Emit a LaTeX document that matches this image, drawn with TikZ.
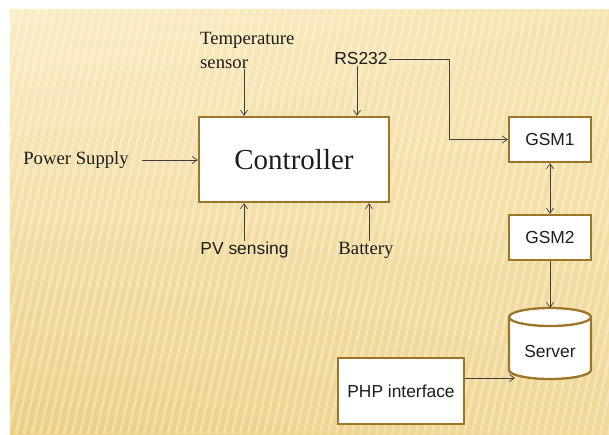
\documentclass[tikz,border=0pt]{standalone}
\usepackage{fontspec}
\setmainfont{Liberation Serif}
\setsansfont{Liberation Sans}
\usetikzlibrary{arrows.meta,calc,shadings}
\definecolor{bgTL}{HTML}{FAECC4}
\definecolor{bgTR}{HTML}{F6E4AE}
\definecolor{bgBL}{HTML}{EBCF85}
\definecolor{bgBR}{HTML}{F0D898}
\definecolor{boxline}{HTML}{9C7628}
\definecolor{ink}{HTML}{1E1E1E}
\tikzset{
  blk/.style={draw=boxline, line width=2.3pt, fill=white, inner sep=0pt},
  arr/.style={draw=ink!85, line width=0.7pt, -{Straight Barb[length=5pt,width=7pt]}},
  darr/.style={draw=ink!85, line width=0.7pt, {Straight Barb[length=5pt,width=7pt]}-{Straight Barb[length=5pt,width=7pt]}},
  sertxt/.style={font=\fontsize{18.7}{24}\selectfont, text=ink, inner sep=1pt},
  santxt/.style={font=\sffamily\fontsize{17.4}{21}\selectfont, text=ink, inner sep=1pt},
}
\begin{document}
\begin{tikzpicture}[x=1pt,y=-1pt]
\useasboundingbox (0,0) rectangle (609,434);
\fill[white] (0,0) rectangle (609,434);
% background
\shade[upper left=bgTL, upper right=bgTR, lower left=bgBL, lower right=bgBR] (10,9) rectangle (609,434);
\begin{scope}
\clip (10,9) rectangle (609,434);
\foreach \i in {-12,...,80} {
  \draw[white, opacity=0.28, line width=3pt] (\i*8,434) -- (\i*8+95,9);
}
\end{scope}

% boxes
\node[blk, minimum width=190, minimum height=85] (ctrl) at (294,159.5)
  {\fontsize{29}{33}\selectfont\color{ink}Controller};
\node[blk, minimum width=82, minimum height=45] (gsm1) at (550,139.5) {};
\node[santxt] at (gsm1) {GSM1};
\node[blk, minimum width=82, minimum height=45] (gsm2) at (550,237.5) {};
\node[santxt] at (gsm2) {GSM2};
\node[blk, minimum width=126, minimum height=66] (php) at (401,391) {};
\node[santxt] at (php) {PHP interface};

% server cylinder
\filldraw[draw=boxline, line width=2.3pt, fill=white]
  (509,317) -- (509,370) arc[start angle=180, end angle=360, x radius=41, y radius=-9]
  -- (591,317) arc[start angle=0, end angle=180, x radius=41, y radius=-9] -- cycle;
\draw[draw=boxline, line width=2.3pt] (509,317) arc[start angle=180, end angle=360, x radius=41, y radius=-9];
\node[santxt] (server) at (550,352) {Server};
\coordinate (srvtop) at (550,308);
\coordinate (srvin) at (515,378);

% labels
\node[sertxt, align=left, anchor=west] (temp) at (199,50) {Temperature\\sensor};
\node[santxt] (rs) at (361,59) {RS232};
\node[sertxt, anchor=east] (ps) at (130,160) {Power Supply};
\node[santxt] (pv) at (244.5,250) {PV sensing};
\node[sertxt] (bat) at (366,250) {Battery};
\coordinate (rsbend1) at (449,59);
\coordinate (rsbend2) at (449,139.5);

% connectors
\draw[arr] (temp.south -| 244,0) -- (ctrl.north -| 244,0);
\draw[arr] (rs.south -| 357,0) -- (ctrl.north -| 357,0);
\draw[arr] ([xshift=12pt]ps.east) -- (ctrl.west |- ps.east);
\draw[arr] (pv.north -| 244,0) -- (ctrl.south -| 244,0);
\draw[arr] (bat.north -| 369,0) -- (ctrl.south -| 369,0);
\draw[arr] (rs.east) -- (rsbend1) -- (rsbend2) -- (gsm1.west);
\draw[darr] (gsm1.south) -- (gsm2.north);
\draw[arr] (gsm2.south) -- (srvtop);
\draw[arr] (php.east |- srvin) -- (srvin);
\end{tikzpicture}
\end{document}
